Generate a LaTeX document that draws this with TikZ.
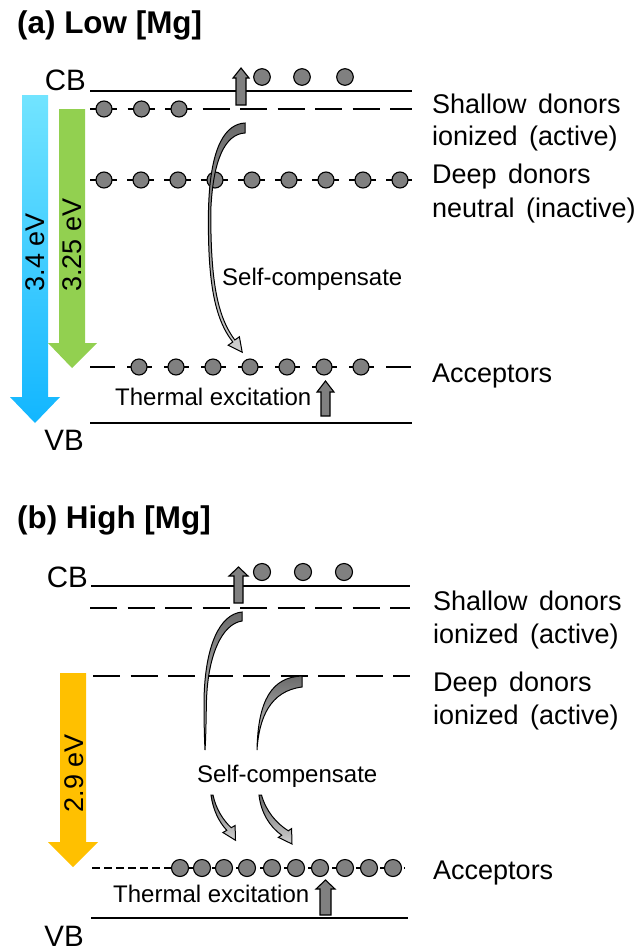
\documentclass[tikz,border=0pt]{standalone}
\usepackage{fontspec}
\setmainfont{Liberation Sans}
\definecolor{cbl}{HTML}{72E4FF}
\definecolor{cbd}{HTML}{12B6FF}
\definecolor{grn}{HTML}{92D050}
\definecolor{org}{HTML}{FFC000}
\definecolor{dotg}{HTML}{808080}
\newcommand\widesp{\spaceskip=0.42em plus 0.1em minus 0.05em\relax}
\begin{document}
\begin{tikzpicture}[x=1pt,y=-1pt,
  ttl/.style={font=\bfseries\fontsize{31.4}{36}\selectfont, anchor=base west, inner sep=0pt},
  band/.style={font=\fontsize{29.5}{34}\selectfont, anchor=base east, inner sep=0pt},
  lbl/.style={font=\fontsize{27}{32}\selectfont\widesp, anchor=base west, inner sep=0pt},
  small/.style={font=\fontsize{24}{28}\selectfont, anchor=base west, inner sep=0pt},
  evl/.style={font=\fontsize{27}{32}\selectfont, rotate=90, inner sep=0pt},
  lvl/.style={line width=2.9pt},
  dashpat/.style={lvl, dash pattern=on 27pt off 10.5pt},
  dot/.style={fill=dotg, draw=black, line width=1.1pt},
  garrow/.style={fill=dotg, draw=black, line width=1.1pt, line join=miter},
  carrow/.style={top color=black!58, bottom color=black!18, draw=black, line width=1pt, line join=miter}]
\useasboundingbox (0,0) rectangle (636,951);

% ================= (a) =================
\node[ttl] (ta) at (17,33) {(a) Low [Mg]};
\node[band] (cba) at (86,90) {CB};
\node[band] (vba) at (84,450) {VB};

% big energy arrows
\shade[top color=cbl, bottom color=cbd] (22,95) -- (48,95) -- (48,397) -- (60,397) -- (35,423) -- (10,397) -- (22,397) -- cycle;
\fill[grn] (59,109) -- (85,109) -- (85,343) -- (97,343) -- (72,368) -- (48,343) -- (59,343) -- cycle;
\node[evl] (ea1) at (35,252) {3.4 eV};
\node[evl] (ea2) at (72,245) {3.25 eV};

% levels
\draw[lvl] (90,91) -- (412,91);
\draw[dashpat] (90,109) -- (412,109);
\draw[lvl, dash pattern=on 27pt off 10pt] (90,180) -- (412,180);
\draw[lvl, dash pattern=on 25pt off 12pt] (90,367) -- (412,367);
\draw[lvl] (90,423) -- (412,423);

\foreach \x in {104,141.5,179} \draw[dot] (\x,109) circle[radius=8pt];
\foreach \x in {104,141,178,215,252,289,326,363,400} \draw[dot] (\x,180) circle[radius=8pt];
\foreach \x in {139,176,213,250,287,324,361} \draw[dot] (\x,367) circle[radius=8pt];
\foreach \x in {262,302,345} \draw[dot] (\x,77) circle[radius=8.3pt];

% up arrows
\draw[garrow] (236,105) -- (236,78) -- (233,78) -- (241,68) -- (249,78) -- (246,78) -- (246,105) -- cycle;
\draw[garrow] (321,416) -- (321,392) -- (317,392) -- (325.5,381) -- (334,392) -- (330,392) -- (330,416) -- cycle;

% self-compensate curved arrow
\draw[carrow] (245,123) .. controls (226,124) and (210,145) .. (208.5,210)
  .. controls (207.5,280) and (214,318) .. (232.8,342)
  -- (228.2,345.2) -- (242.2,352.2) -- (239.4,336.8) -- (234.8,340)
  .. controls (217,316) and (210.5,280) .. (210.8,210)
  .. controls (213,160) and (225,134) .. (245,133) -- cycle;

\node[small] (sca) at (222,285) {Self-compensate};
\node[small] (tea) at (115,405) {Thermal excitation};

\node[lbl] (la1) at (432,113) {Shallow donors};
\node[lbl] (la2) at (432,145) {ionized (active)};
\node[lbl] (la3) at (432,183) {Deep donors};
\node[lbl] (la4) at (432,217) {neutral (inactive)};
\node[lbl] (la5) at (432,382) {Acceptors};

% ================= (b) =================
\node[ttl] (tb) at (17,528) {(b) High [Mg]};
\node[band] (cbb) at (88,587) {CB};
\node[band] (vbb) at (84,946) {VB};

\fill[org] (60,673) -- (86,673) -- (86,842) -- (98,842) -- (73,867) -- (48,842) -- (60,842) -- cycle;
\node[evl] (eb1) at (74,773) {2.9 eV};

\draw[lvl] (91,586) -- (410,586);
\draw[dashpat] (90,608) -- (410,608);
\draw[dashpat] (93,676) -- (410,676);
\draw[lvl, dash pattern=on 8pt off 4pt] (92,868) -- (405,868);
\draw[lvl] (91,918) -- (408,918);

\foreach \x in {180,202,224,247,272,296,320,345,369,393} \draw[dot] (\x,868) circle[radius=8.5pt];
\foreach \x in {262,303,344} \draw[dot] (\x,572) circle[radius=8.5pt];

\draw[garrow] (234,603) -- (234,576) -- (229,576) -- (238.5,567) -- (248,576) -- (243,576) -- (243,603) -- cycle;
\draw[garrow] (320,915) -- (320,889) -- (316,889) -- (325.5,880) -- (335,889) -- (331,889) -- (331,915) -- cycle;

% curved arrows, upper parts
\draw[carrow] (242,612) .. controls (220,614) and (205,645) .. (204,700)
  .. controls (204,725) and (204.5,740) .. (205,750)
  .. controls (206,735) and (206,720) .. (206.5,700)
  .. controls (208,655) and (222,624) .. (242,621) -- cycle;
\draw[carrow] (302,676) .. controls (272,677) and (258,700) .. (257,750)
  .. controls (259,718) and (270,691) .. (302,687) -- cycle;
% lower parts
\draw[carrow] (211,795) .. controls (213,810) and (219,822) .. (226.8,830.3)
  -- (222.9,832.5) -- (235.5,840.3) -- (235.1,825.5) -- (231.2,827.7)
  .. controls (223,820) and (216,809) .. (213,795) -- cycle;
\draw[carrow] (259,795) .. controls (261,813) and (270,827) .. (281.7,835.2)
  -- (278.4,837.4) -- (292,844) -- (291.6,828.6) -- (288.3,830.8)
  .. controls (276,823) and (266,811) .. (261.5,795) -- cycle;

\node[small] (scb) at (197,782) {Self-compensate};
\node[small] (teb) at (113,902) {Thermal excitation};

\node[lbl] (lb1) at (433,610) {Shallow donors};
\node[lbl] (lb2) at (433,643) {ionized (active)};
\node[lbl] (lb3) at (433,691) {Deep donors};
\node[lbl] (lb4) at (433,724) {ionized (active)};
\node[lbl] (lb5) at (433,879) {Acceptors};
\end{tikzpicture}
\end{document}
